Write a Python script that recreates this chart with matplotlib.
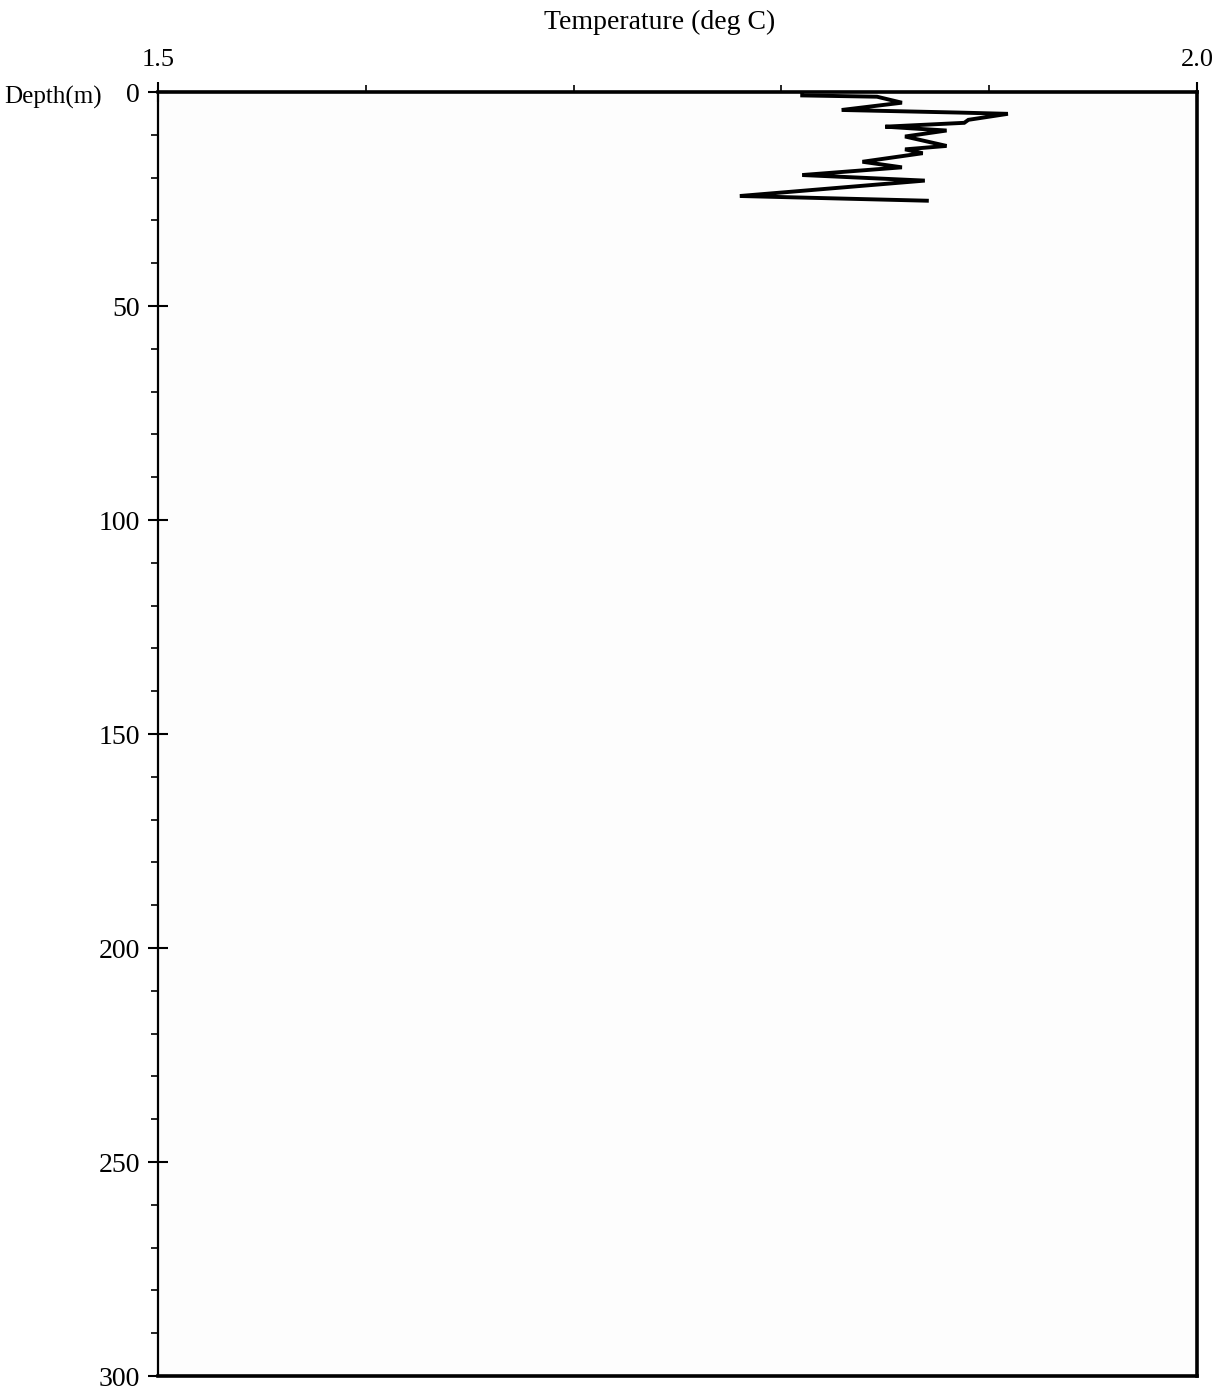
import numpy as np
import matplotlib.pyplot as plt
from matplotlib.ticker import MultipleLocator, FixedLocator

# temperature profile
temperature = [1.810, 1.810, 1.846, 1.858, 1.829, 1.885, 1.909, 1.890, 1.888, 1.850,
               1.866, 1.8795, 1.8595, 1.8795, 1.8595, 1.868, 1.839, 1.858, 1.810, 1.869,
               1.780, 1.870]
depth = [0.0, 0.8, 1.1, 2.5, 4.2, 4.8, 5.1, 6.5, 7.2, 8.1,
         8.6, 9.0, 10.4, 12.6, 13.4, 14.3, 16.3, 17.6, 19.4, 20.7,
         24.3, 25.4]

x_ticks = [1.5, 2.0]
x_tick_labels = ['1.5', '2.0']
y_ticks = [0, 50, 100, 150, 200, 250, 300]

plt.rcParams['font.family'] = ['Liberation Serif', 'DejaVu Serif']

fig = plt.figure(figsize=(12.31, 13.97), dpi=100)
ax = fig.add_axes([158 / 1231, 1 - 1376 / 1397, (1197 - 158) / 1231, (1376 - 92) / 1397])
ax.set_facecolor('#fdfdfd')

ax.plot(temperature, depth, color='black', lw=2.8, solid_joinstyle='miter')

ax.set_xlim(1.5, 2.0)
ax.set_ylim(300, 0)
ax.xaxis.tick_top()
ax.xaxis.set_major_locator(FixedLocator(x_ticks))
ax.set_xticklabels(x_tick_labels)
ax.xaxis.set_minor_locator(MultipleLocator(0.1))
ax.yaxis.set_major_locator(FixedLocator(y_ticks))
ax.yaxis.set_minor_locator(MultipleLocator(10))

ax.tick_params(axis='x', which='major', direction='inout', length=14, width=1.5,
               labelsize=19, pad=8)
ax.tick_params(axis='x', which='minor', direction='out', length=5, width=1.2)
ax.tick_params(axis='y', which='major', direction='inout', length=14, width=1.5,
               labelsize=20, pad=6)
ax.tick_params(axis='y', which='minor', direction='out', length=5, width=1.2)

for side in ['top', 'bottom', 'right']:
    ax.spines[side].set_linewidth(2.6)
ax.spines['left'].set_linewidth(1.6)

fig.text(660 / 1231, 1 - 22 / 1397, 'Temperature (deg C)', ha='center', va='center', fontsize=20)
fig.text(102 / 1231, 1 - 97 / 1397, 'Depth(m)', ha='right', va='center', fontsize=18)

plt.savefig('out.png', dpi=100)
